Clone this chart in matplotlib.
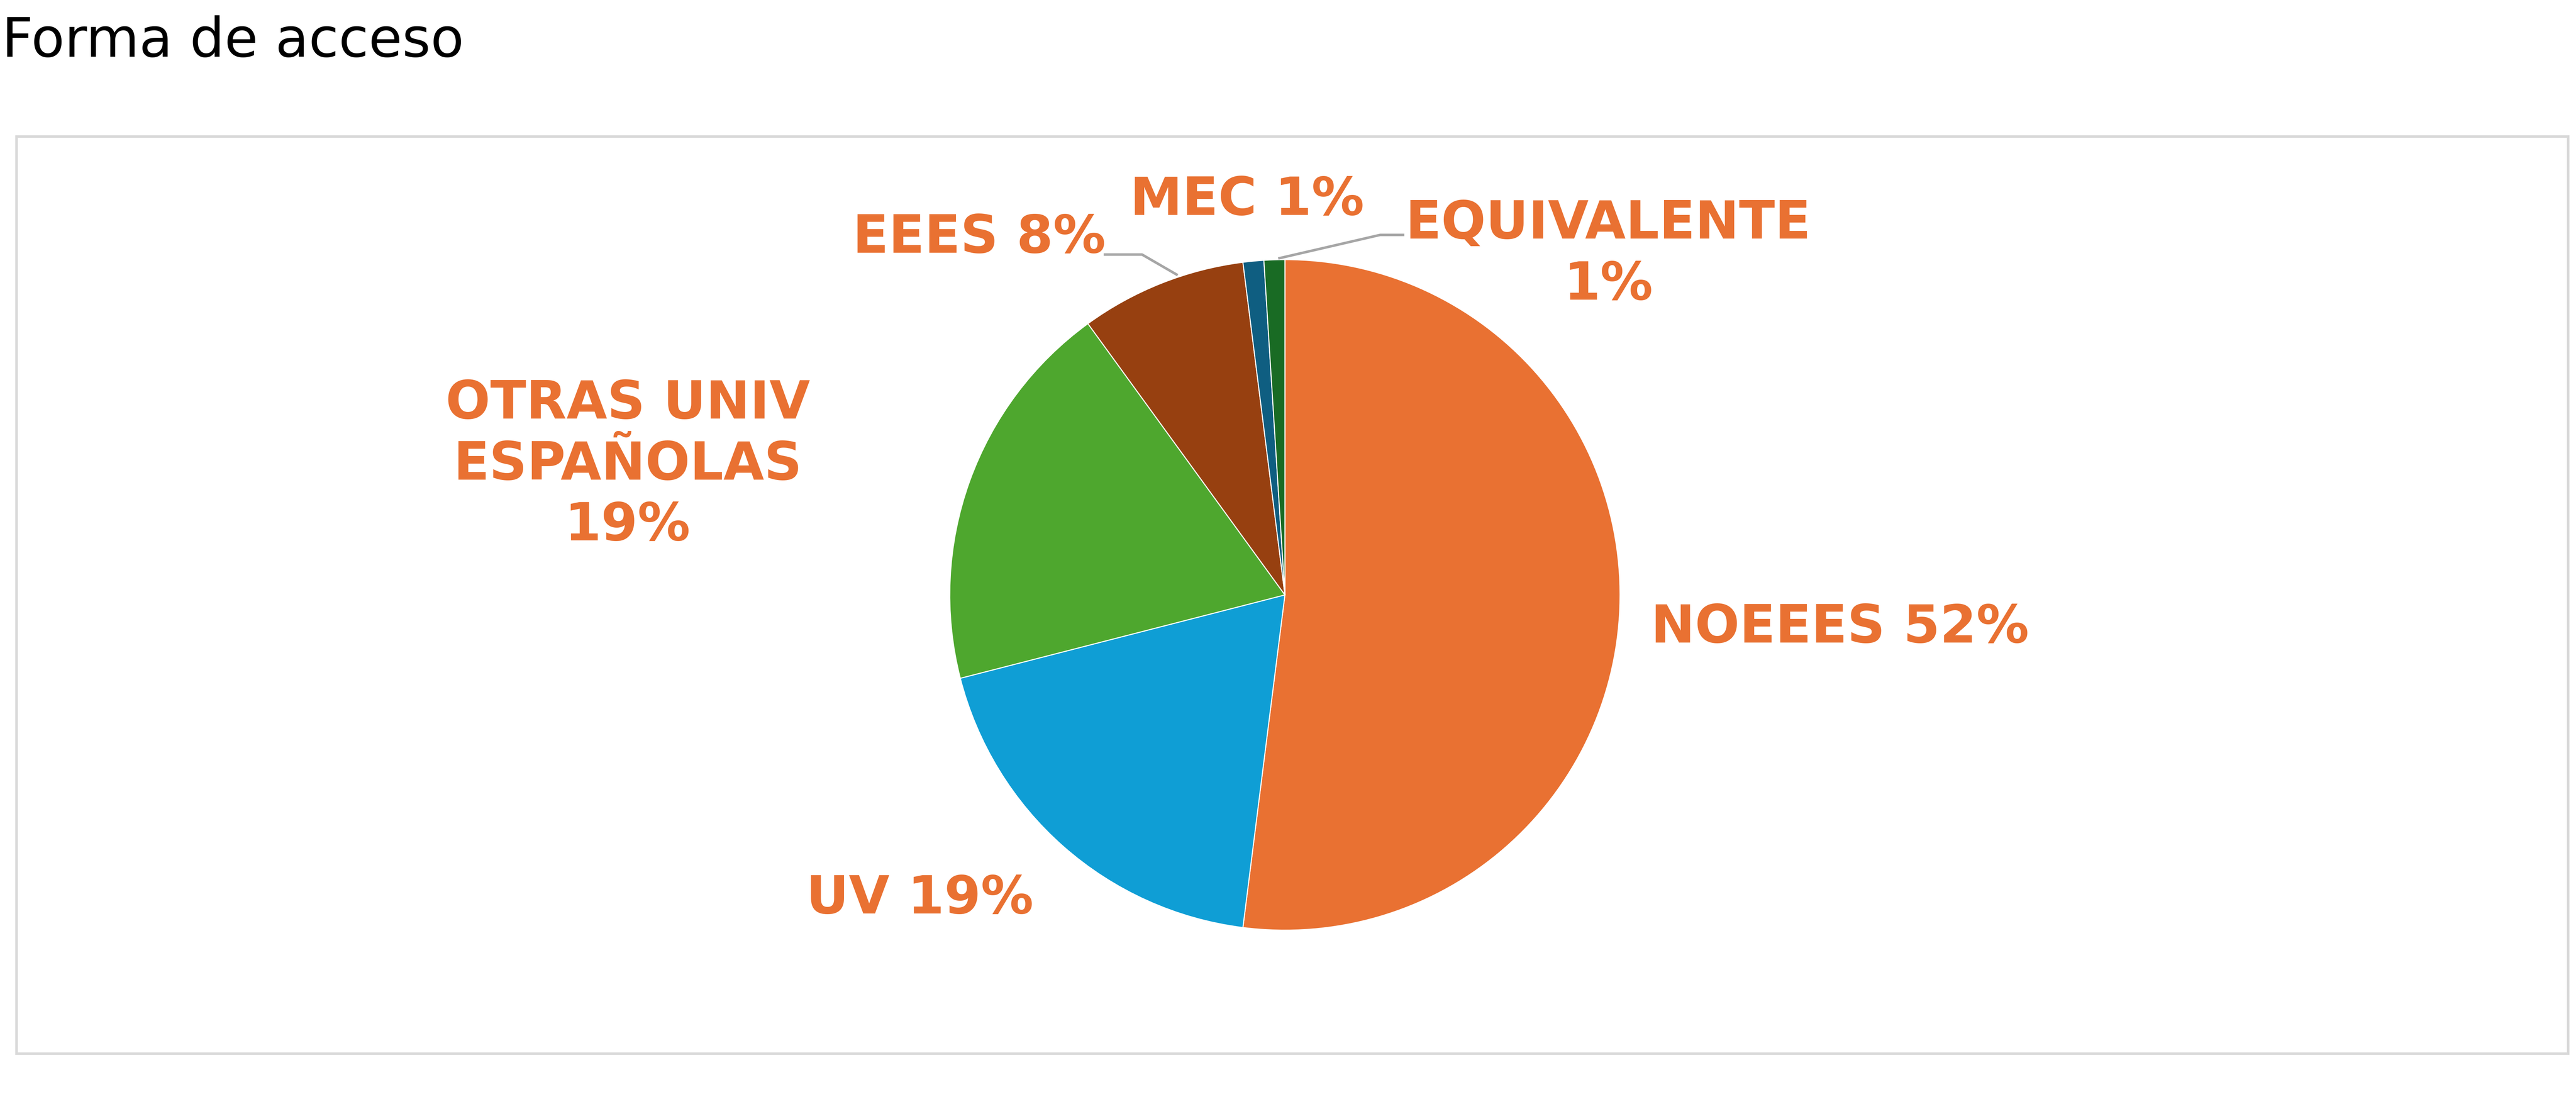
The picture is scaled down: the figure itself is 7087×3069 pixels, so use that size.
import matplotlib
matplotlib.use('Agg')
import matplotlib.pyplot as plt
from matplotlib.patches import Rectangle
from matplotlib.lines import Line2D

labels = ['NOEEES', 'UV', 'OTRAS UNIV\nESPAÑOLAS', 'EEES', 'MEC', 'EQUIVALENTE']
values = [52, 19, 19, 8, 1, 1]
colors = ['#E97132', '#0F9ED5', '#4EA72E', '#974010', '#0F5E81', '#196B24']
label_color = '#E97132'

W, H = 7087, 3069
fig = plt.figure(figsize=(W / 100, H / 100), dpi=100)

def fx(x):
    return x / W

def fy(y):
    return 1 - y / H

# chart frame
fig.patches.append(Rectangle((fx(45), fy(2897)), fx(7065) - fx(45), fy(375) - fy(2897),
                             transform=fig.transFigure, fill=False,
                             edgecolor='#D9D9D9', linewidth=5))
fig.text(fx(5), fy(115), 'Forma de acceso', fontsize=108, ha='left', va='center')

cx, cy, r = 3535, 1636, 922
ax = fig.add_axes([fx(cx - r), fy(cy + r), 2 * r / W, 2 * r / H])
ax.pie(values, colors=colors, startangle=90, counterclock=False,
       wedgeprops=dict(edgecolor='white', linewidth=2))
ax.set_xlim(-1, 1)
ax.set_ylim(-1, 1)
ax.set_aspect('auto')
ax.axis('off')

# labels: (text, x, y) in figure pixels
txt = [
    (f'{labels[0]} {values[0]}%', 5062, 1727),
    (f'{labels[1]} {values[1]}%', 2531, 2472),
    (f'{labels[2]}\n{values[2]}%', 1727, 1279),
    (f'{labels[3]} {values[3]}%', 2694, 655),
    (f'{labels[4]} {values[4]}%', 3431, 551),
    (f'{labels[5]}\n{values[5]}%', 4425, 700),
]
for t, x, y in txt:
    fig.text(fx(x), fy(y), t, fontsize=104, fontweight='bold', color=label_color,
             ha='center', va='center', linespacing=1.25)

# leader lines
for xs, ys in [([3040, 3142, 3237], [700, 700, 755]),
               ([3520, 3797, 3860], [710, 646, 646])]:
    fig.add_artist(Line2D([fx(v) for v in xs], [fy(v) for v in ys],
                          transform=fig.transFigure, color='#A6A6A6', linewidth=5))

fig.savefig('out.png', dpi=100)
